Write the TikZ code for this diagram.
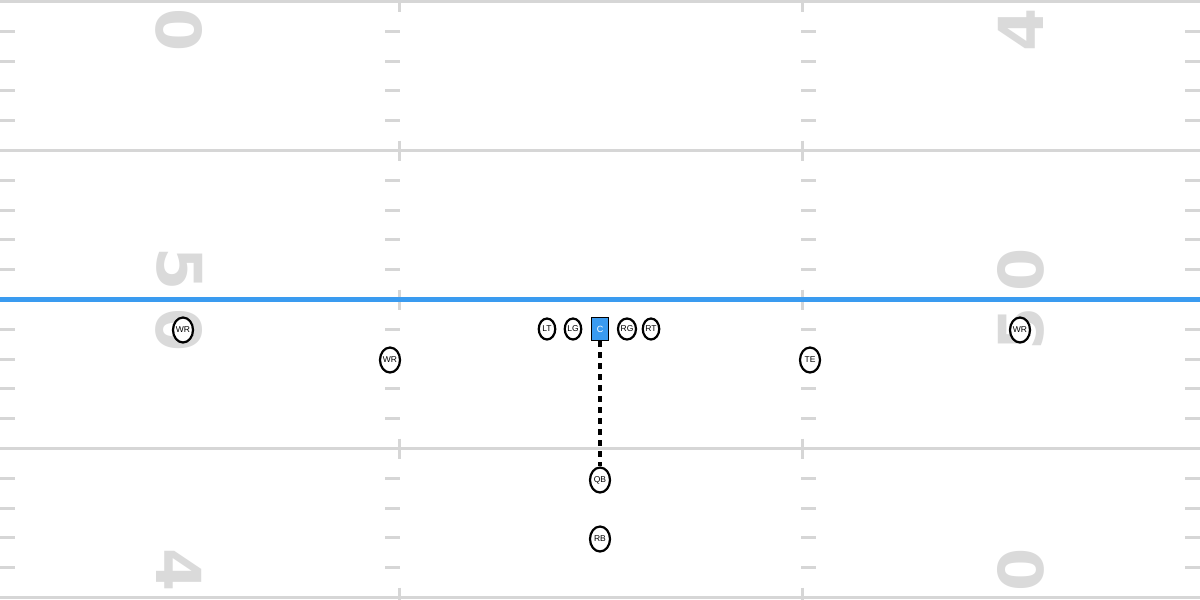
\documentclass[tikz,border=0pt]{standalone}
\usepackage{fontspec}
\setmainfont{Liberation Sans}
\newfontfamily\numfont{DejaVu Sans}
\usetikzlibrary{shapes.geometric}
\definecolor{fieldline}{HTML}{D6D6D6}
\definecolor{numgray}{HTML}{DADADA}
\definecolor{losblue}{HTML}{3A9BF0}
\begin{document}
\begin{tikzpicture}[x=1pt,y=-1pt,
  yardline/.style={draw=fieldline, line width=3pt},
  hashmark/.style={draw=fieldline, line width=3pt},
  yardnum/.style={text=numgray, font=\numfont\bfseries\fontsize{62}{62}\selectfont, inner sep=0pt},
  player/.style={ellipse, draw=black, line width=2.2pt, fill=white, inner sep=0pt,
    minimum width=20pt, minimum height=25pt, font=\fontsize{8.5}{8.5}\selectfont},
  lineman/.style={player, minimum width=16.5pt, minimum height=21pt, font=\fontsize{8.5}{8.5}\selectfont},
  snapbox/.style={rectangle, draw=black, line width=1.5pt, fill=losblue, text=white,
    minimum width=17pt, minimum height=23pt, inner sep=0pt, font=\fontsize{9}{9}\selectfont},
  losline/.style={draw=losblue, line width=5pt},
  dotline/.style={draw=black, line width=3.5pt, dash pattern=on 6pt off 5pt}
]
\fill[white] (0,0) rectangle (1200,600);
\useasboundingbox (0,0) rectangle (1200,600);
% yard lines
\foreach \k in {0,5,10,15,20}{
  \draw[yardline] (0,{1.5+29.8*\k}) -- (1200,{1.5+29.8*\k});
  \draw[hashmark] (399,{1.5+29.8*\k-10}) -- (399,{1.5+29.8*\k+10});
  \draw[hashmark] (802,{1.5+29.8*\k-10}) -- (802,{1.5+29.8*\k+10});
}
% hash marks
\foreach \k in {1,2,3,4,6,7,8,9,11,12,13,14,16,17,18,19}{
  \draw[hashmark] (0,{1.5+29.8*\k}) -- (15,{1.5+29.8*\k});
  \draw[hashmark] (385,{1.5+29.8*\k}) -- (400,{1.5+29.8*\k});
  \draw[hashmark] (801,{1.5+29.8*\k}) -- (816,{1.5+29.8*\k});
  \draw[hashmark] (1185,{1.5+29.8*\k}) -- (1200,{1.5+29.8*\k});
}
% yard numbers
\node[yardnum, rotate=-90] (nl1) at (179.5,30) {0};
\node[yardnum, rotate=-90] (nl2) at (179.5,269) {5};
\node[yardnum, rotate=-90] (nl3) at (179.5,330) {0};
\node[yardnum, rotate=-90] (nl4) at (179.5,570) {4};
\node[yardnum, rotate=90] (nr1) at (1021,30) {4};
\node[yardnum, rotate=90] (nr2) at (1021,270) {0};
\node[yardnum, rotate=90] (nr3) at (1021,329) {5};
\node[yardnum, rotate=90] (nr4) at (1021,570) {0};
% line of scrimmage
\coordinate (losL) at (0,299.5);
\coordinate (losR) at (1200,299.5);
\draw[losline] (losL) -- (losR);
% players
\node[player] (wr1) at (183,330) {WR};
\node[player] (wr2) at (390,360) {WR};
\node[lineman] (lt) at (547,329) {LT};
\node[lineman] (lg) at (573,329) {LG};
\node[snapbox] (c) at (600,329) {C};
\node[lineman] (rg) at (627,329) {RG};
\node[lineman] (rt) at (651,329) {RT};
\node[player] (te) at (810,360) {TE};
\node[player] (wr3) at (1020,330) {WR};
\node[player] (qb) at (600,480) {QB};
\node[player] (rb) at (600,539) {RB};
\draw[dotline] (c.south) -- (qb.north);
\end{tikzpicture}
\end{document}
